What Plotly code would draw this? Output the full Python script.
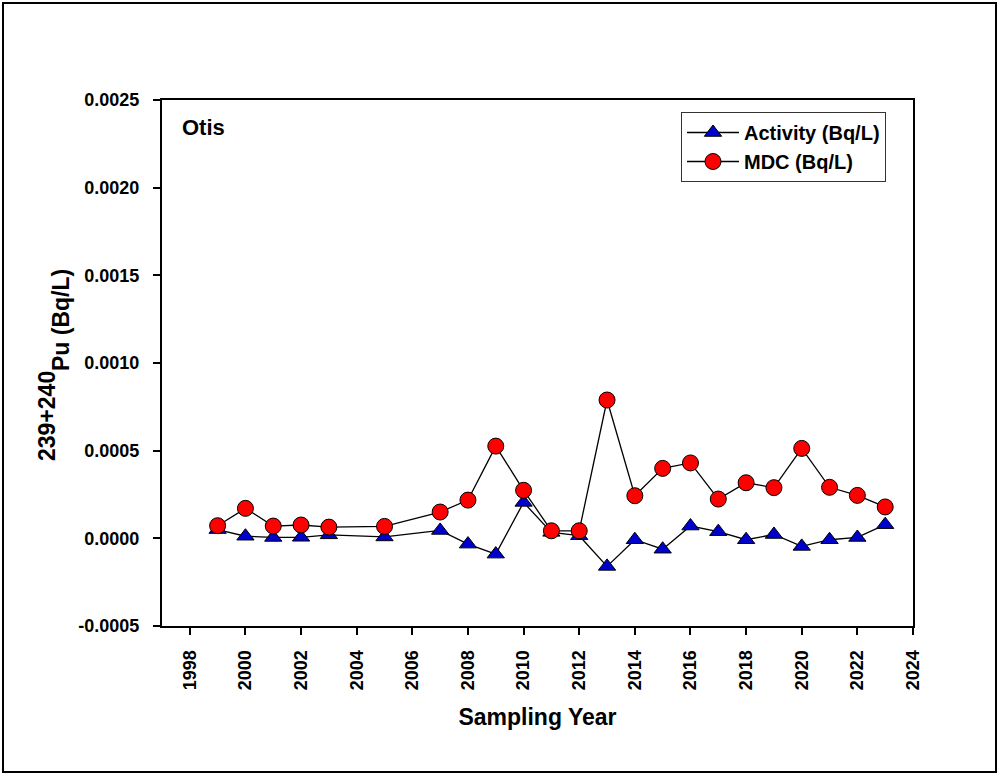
import plotly.graph_objects as go

years_act = [1999, 2000, 2001, 2002, 2003, 2005, 2007, 2008, 2009, 2010, 2011, 2012,
             2013, 2014, 2015, 2016, 2017, 2018, 2019, 2020, 2021, 2022, 2023]
activity = [0.000050, 0.000012, 0.000005, 0.000006, 0.000020, 0.000008, 0.000045, -0.000033,
            -0.000090, 0.000205, 0.000034, 0.000015, -0.000160, -0.000008, -0.000062,
            0.000070, 0.000038, -0.000008, 0.000022, -0.000046, -0.000008, 0.000005, 0.000078]
years_mdc = years_act
mdc = [0.000072, 0.000171, 0.000070, 0.000076, 0.000064, 0.000068, 0.000150, 0.000218,
       0.000526, 0.000274, 0.000043, 0.000043, 0.000789, 0.000243, 0.000399, 0.000430,
       0.000224, 0.000317, 0.000289, 0.000513, 0.000291, 0.000245, 0.000179]
x_ticks = list(range(1998, 2025, 2))
y_ticks = [-0.0005, 0.0, 0.0005, 0.0010, 0.0015, 0.0020, 0.0025]

W, H = 999, 775
L, R, T, B = 162, 86, 100, 149
pw, ph = W - L - R, H - T - B

font = "Liberation Sans, Arial, sans-serif"

fig = go.Figure()
fig.add_trace(go.Scatter(
    x=years_act, y=activity, mode="lines+markers", name="<b>Activity (Bq/L)</b>",
    line=dict(color="black", width=1.3),
    marker=dict(symbol="triangle-up", size=15, color="#0000cc", line=dict(color="black", width=1)),
))
fig.add_trace(go.Scatter(
    x=years_mdc, y=mdc, mode="lines+markers", name="<b>MDC (Bq/L)</b>",
    line=dict(color="black", width=1.3),
    marker=dict(symbol="circle", size=16, color="#ff0000", line=dict(color="black", width=1)),
))

fig.update_layout(
    width=W, height=H,
    margin=dict(l=L, r=R, t=T, b=B, pad=0),
    paper_bgcolor="white", plot_bgcolor="white",
    font=dict(family=font, color="black"),
    legend=dict(x=(681 - L) / pw, y=(626 - 112) / ph, xanchor="left", yanchor="top",
                bordercolor="#333333", borderwidth=1, bgcolor="white",
                font=dict(size=20, family=font), tracegroupgap=0,
                itemwidth=52),
    xaxis=dict(range=[1997, 2024], tickvals=x_ticks, ticktext=[f"<b>{v}</b>" for v in x_ticks],
               tickangle=-90, ticks="outside", ticklen=7, tickwidth=1.5, tickcolor="black",
               ticklabelstandoff=8,
               showline=True, linecolor="black", linewidth=2, mirror=True, showgrid=False,
               zeroline=False, tickfont=dict(size=18, family=font),
               title=dict(text="<b>Sampling Year</b>", font=dict(size=23, family=font), standoff=20)),
    yaxis=dict(range=[-0.0005, 0.0025], tickvals=y_ticks,
               ticktext=[f"<b>{v:.4f}</b>" for v in y_ticks],
               ticks="outside", ticklen=7, tickwidth=1.5, tickcolor="black",
               ticklabelstandoff=10,
               showline=True, linecolor="black", linewidth=2, mirror=True, showgrid=False,
               zeroline=False, tickfont=dict(size=18, family=font)),
    showlegend=True,
)

# y-axis title: "239+240" raised, "Pu (Bq/L)" lowered (as in the reference)
fig.add_annotation(x=(47 - L) / pw, y=(626 - 416) / ph, xref="paper", yref="paper",
                   text="<b>239+240</b>", showarrow=False, textangle=-90,
                   xanchor="center", yanchor="middle",
                   font=dict(size=23, family=font, color="black"))
fig.add_annotation(x=(61 - L) / pw, y=(626 - 320) / ph, xref="paper", yref="paper",
                   text="<b>Pu (Bq/L)</b>", showarrow=False, textangle=-90,
                   xanchor="center", yanchor="middle",
                   font=dict(size=23, family=font, color="black"))

fig.add_annotation(x=(180 - L) / pw, y=(626 - 127) / ph, xref="paper", yref="paper",
                   text="<b>Otis</b>", showarrow=False, xanchor="left", yanchor="middle",
                   font=dict(size=22, family=font, color="black"))

fig.add_shape(type="rect", xref="paper", yref="paper",
              x0=(3 - L) / pw, x1=(996 - L) / pw, y0=(H - 772 - B) / ph, y1=(H - 3 - B) / ph,
              line=dict(color="black", width=2), fillcolor="rgba(0,0,0,0)", layer="below")

fig.write_html("out.html", config={"displayModeBar": False},
               post_script="document.body.style.margin='0px';document.body.style.overflow='hidden';")
